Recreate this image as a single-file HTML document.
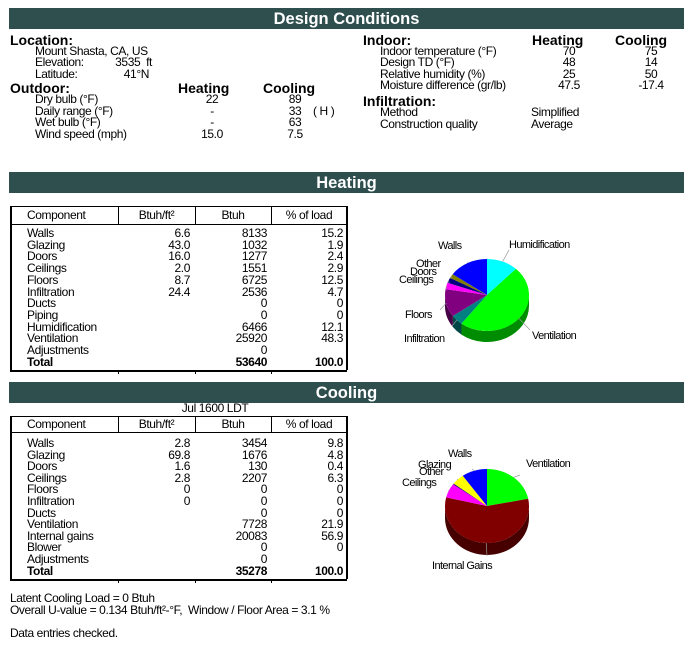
<!DOCTYPE html>
<html><head><meta charset="utf-8">
<style>
body{margin:0;width:698px;height:650px;background:#fff;position:relative;overflow:hidden;font-family:"Liberation Sans",Arial,sans-serif;font-size:12px;color:#000;letter-spacing:-0.4px}
.a{position:absolute;white-space:nowrap;line-height:12px}
.b{font-weight:bold;font-size:14px;letter-spacing:0}
.ban{position:absolute;left:9px;width:675px;height:21px;background:#2f4f4f;color:#fff;font-weight:bold;font-size:16.5px;text-align:center;line-height:22px;letter-spacing:0}
.r{text-align:right}
.c{text-align:center}
.ln{position:absolute;background:#000}
</style></head><body>
<div class="ban" style="top:8px">Design Conditions</div>
<div class="ban" style="top:172px">Heating</div>
<div class="ban" style="top:382px">Cooling</div>

<div>
<div class="a b" style="left:10px;top:34px">Location:</div>
<div class="a" style="left:35px;top:45px">Mount Shasta, CA, US</div>
<div class="a" style="left:35px;top:56px">Elevation:</div><div class="a r" style="left:100px;width:52px;top:56px">3535&nbsp; ft</div>
<div class="a" style="left:35px;top:68px">Latitude:</div><div class="a r" style="left:100px;width:49px;top:68px">41°N</div>
<div class="a b" style="left:10px;top:82px">Outdoor:</div>
<div class="a b" style="left:178px;top:82px">Heating</div><div class="a b" style="left:263px;top:82px">Cooling</div>
<div class="a" style="left:35px;top:93px">Dry bulb (°F)</div><div class="a c" style="left:190px;width:44px;top:93px">22</div><div class="a c" style="left:273px;width:44px;top:93px">89</div>
<div class="a" style="left:35px;top:105px">Daily range (°F)</div><div class="a c" style="left:190px;width:44px;top:105px">-</div><div class="a c" style="left:273px;width:44px;top:105px">33</div><div class="a" style="left:313px;top:105px">( H )</div>
<div class="a" style="left:35px;top:116px">Wet bulb (°F)</div><div class="a c" style="left:190px;width:44px;top:116px">-</div><div class="a c" style="left:273px;width:44px;top:116px">63</div>
<div class="a" style="left:35px;top:128px">Wind speed (mph)</div><div class="a c" style="left:190px;width:44px;top:128px">15.0</div><div class="a c" style="left:273px;width:44px;top:128px">7.5</div>
</div>

<div>
<div class="a b" style="left:363px;top:34px">Indoor:</div>
<div class="a b" style="left:532px;top:34px">Heating</div><div class="a b" style="left:615px;top:34px">Cooling</div>
<div class="a" style="left:380px;top:45px">Indoor temperature (°F)</div><div class="a c" style="left:547px;width:44px;top:45px">70</div><div class="a c" style="left:629px;width:44px;top:45px">75</div>
<div class="a" style="left:380px;top:56px">Design TD (°F)</div><div class="a c" style="left:547px;width:44px;top:56px">48</div><div class="a c" style="left:629px;width:44px;top:56px">14</div>
<div class="a" style="left:380px;top:68px">Relative humidity (%)</div><div class="a c" style="left:547px;width:44px;top:68px">25</div><div class="a c" style="left:629px;width:44px;top:68px">50</div>
<div class="a" style="left:380px;top:79px">Moisture difference (gr/lb)</div><div class="a c" style="left:547px;width:44px;top:79px">47.5</div><div class="a c" style="left:629px;width:44px;top:79px">-17.4</div>
<div class="a b" style="left:363px;top:95px">Infiltration:</div>
<div class="a" style="left:380px;top:106px">Method</div><div class="a" style="left:531px;top:106px">Simplified</div>
<div class="a" style="left:380px;top:118px">Construction quality</div><div class="a" style="left:531px;top:118px">Average</div>
</div>

<div id="heatTable"></div>
<div class="a c" style="left:160px;width:110px;top:402px">Jul 1600 LDT</div>
<div id="coolTable"></div>

<div class="a" style="left:10px;top:592px">Latent Cooling Load = 0 Btuh</div>
<div class="a" style="left:10px;top:604px">Overall U-value = 0.134 Btuh/ft²-°F,&nbsp; Window / Floor Area = 3.1 %</div>
<div class="a" style="left:10px;top:627px">Data entries checked.</div>

<svg id="pies" width="698" height="650" style="position:absolute;left:0;top:0"></svg>

<script>
const heatRows=[["Walls","6.6","8133","15.2"],["Glazing","43.0","1032","1.9"],["Doors","16.0","1277","2.4"],["Ceilings","2.0","1551","2.9"],["Floors","8.7","6725","12.5"],["Infiltration","24.4","2536","4.7"],["Ducts","","0","0"],["Piping","","0","0"],["Humidification","","6466","12.1"],["Ventilation","","25920","48.3"],["Adjustments","","0",""],["Total","","53640","100.0"]];
const coolRows=[["Walls","2.8","3454","9.8"],["Glazing","69.8","1676","4.8"],["Doors","1.6","130","0.4"],["Ceilings","2.8","2207","6.3"],["Floors","0","0","0"],["Infiltration","0","0","0"],["Ducts","","0","0"],["Ventilation","","7728","21.9"],["Internal gains","","20083","56.9"],["Blower","","0","0"],["Adjustments","","0",""],["Total","","35278","100.0"]];
const heatLabels=["Humidification","Ventilation","Infiltration","Floors","Ceilings","Doors","Other","Walls"];
const heatValues=[12.1,48.3,4.7,12.5,2.9,2.4,1.9,15.2];
const heatColors=["#00ffff","#00ff00","#008080","#800080","#ff00ff","#000080","#808000","#0000ff"];
const coolLabels=["Ventilation","Internal Gains","Ceilings","Other","Glazing","Walls"];
const coolValues=[21.9,56.9,6.3,0.4,4.8,9.8];
const coolColors=["#00ff00","#800000","#ff00ff","#000080","#ffff00","#0000ff"];

function table(el,rows,top,hdrBot,firstRow,step,bottom){
  const L=10,R=346,cols=[118,195,271];
  let h='';
  h+=`<div class="ln" style="left:${L}px;top:${top}px;width:${R-L}px;height:1px"></div>`;
  h+=`<div class="ln" style="left:${L}px;top:${hdrBot}px;width:${R-L}px;height:1px"></div>`;
  h+=`<div class="ln" style="left:${L}px;top:${bottom}px;width:${R-L+1}px;height:2px"></div>`;
  h+=`<div class="ln" style="left:${L}px;top:${top}px;width:2px;height:${bottom-top}px"></div>`;
  h+=`<div class="ln" style="left:${R}px;top:${top}px;width:2px;height:${bottom-top}px"></div>`;
  cols.forEach(c=>{h+=`<div class="ln" style="left:${c}px;top:${top}px;width:1px;height:${hdrBot-top}px"></div>`;h+=`<div class="ln" style="left:${c}px;top:${bottom}px;width:1px;height:4px"></div>`;});
  const hy=(top+hdrBot)/2-6;
  h+=`<div class="a" style="left:27px;top:${hy}px">Component</div>`;
  h+=`<div class="a c" style="left:118px;width:77px;top:${hy}px">Btuh/ft²</div>`;
  h+=`<div class="a c" style="left:195px;width:76px;top:${hy}px">Btuh</div>`;
  h+=`<div class="a c" style="left:271px;width:76px;top:${hy}px">% of load</div>`;
  rows.forEach((r,i)=>{
    const y=firstRow+i*step-6, bw=(i==rows.length-1)?'font-weight:bold;':'';
    h+=`<div class="a" style="left:27px;top:${y}px;${bw}">${r[0]}</div>`;
    h+=`<div class="a r" style="left:118px;width:72px;top:${y}px">${r[1]}</div>`;
    h+=`<div class="a r" style="left:195px;width:72px;top:${y}px;${bw}">${r[2]}</div>`;
    h+=`<div class="a r" style="left:271px;width:72px;top:${y}px;${bw}">${r[3]}</div>`;
  });
  el.innerHTML=h;
}
table(document.getElementById('heatTable'),heatRows,206,224,233,11.7,370);
table(document.getElementById('coolTable'),coolRows,416,432,443,11.6,579);

const NS="http://www.w3.org/2000/svg";
const svg=document.getElementById('pies');
function dark(c){const n=parseInt(c.slice(1),16);const f=v=>Math.round(v*0.55);return `rgb(${f(n>>16&255)},${f(n>>8&255)},${f(n&255)})`;}
function pie(values,colors,labels,cx,cy,rx,ry,depth,labelPos,name){
  const total=values.reduce((a,b)=>a+b,0);
  const g=document.createElementNS(NS,'g');
  
  
  svg.appendChild(g);
  const P=a=>[cx+rx*Math.cos(a),cy+ry*Math.sin(a)];
  let a=-Math.PI/2;const segs=[];
  values.forEach((v,i)=>{const a2=a+v/total*2*Math.PI;segs.push([a,a2]);a=a2;});
  segs.forEach(([a1,a2],i)=>{
    const ranges=[[Math.max(a1,0),Math.min(a2,Math.PI)],[Math.max(a1,2*Math.PI),Math.min(a2,3*Math.PI)]];
    ranges.forEach(([x1,x2])=>{
      if(x2<=x1)return;
      const p1=P(x1),p2=P(x2);
      const d=`M${p1[0]},${p1[1]} A${rx},${ry} 0 0 1 ${p2[0]},${p2[1]} L${p2[0]},${p2[1]+depth} A${rx},${ry} 0 0 0 ${p1[0]},${p1[1]+depth} Z`;
      const p=document.createElementNS(NS,'path');
      p.setAttribute('d',d);p.setAttribute('fill',dark(colors[i]));
      
      
      g.appendChild(p);
    });
  });
  segs.forEach(([a1,a2],i)=>{
    const p1=P(a1),p2=P(a2);const large=(a2-a1)>Math.PI?1:0;
    const p=document.createElementNS(NS,'path');
    p.setAttribute('d',`M${cx},${cy} L${p1[0]},${p1[1]} A${rx},${ry} 0 ${large} 1 ${p2[0]},${p2[1]} Z`);
    p.setAttribute('fill',colors[i]);
    
    
    g.appendChild(p);
    const lp=labelPos[i];
    const mid=(a1+a2)/2;const e=P(mid);
    const ln=document.createElementNS(NS,'line');
    ln.setAttribute('x1',e[0]);ln.setAttribute('y1',e[1]);ln.setAttribute('x2',lp[2]);ln.setAttribute('y2',lp[3]);
    ln.setAttribute('stroke','#999');ln.setAttribute('stroke-width','0.7');
    
    
    g.appendChild(ln);
    const t=document.createElementNS(NS,'text');
    t.setAttribute('x',lp[0]);t.setAttribute('y',lp[1]);
    t.setAttribute('font-family','Liberation Sans, Arial, sans-serif');t.setAttribute('font-size','11');t.setAttribute('letter-spacing','-0.6');
    t.textContent=labels[i];
    
    
    g.appendChild(t);
  });
}
pie(heatValues,heatColors,heatLabels,487,295,42,36,11,
 [[509,248,509,250],[532,339,530,330],[404,342,452,326],[405,318,440,310],[399,283,446,289],[410,275,449,283],[416,267,451,279],[438,249,468,262]],'heating-pie');
pie(coolValues,coolColors,coolLabels,487,506,42,37,12,
 [[526,467,520,475],[432,569,487,556],[402,486,448,491],[419,475,455,484],[418,468,457,480],[448,457,472,469]],'cooling-pie');
</script>
</body></html>
